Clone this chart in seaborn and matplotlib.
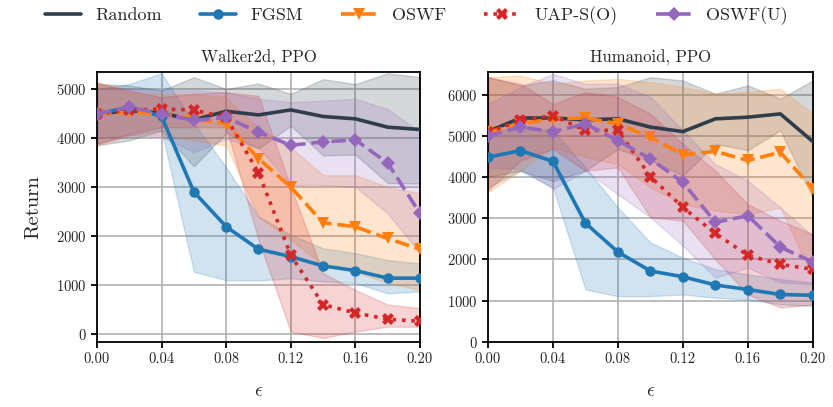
import numpy as np
import pandas as pd
import seaborn as sns
import matplotlib.pyplot as plt

# epsilon values shared by both panels
eps = [0.00, 0.02, 0.04, 0.06, 0.08, 0.10, 0.12, 0.14, 0.16, 0.18, 0.20]

methods = ["Random", "FGSM", "OSWF", "UAP-S(O)", "OSWF(U)"]

# Walker2d, PPO : mean, lower, upper
walker_random = [4490, 4560, 4505, 4370, 4545, 4470, 4573, 4438, 4390, 4220, 4173]
walker_random_lo = [3850, 3950, 4150, 3420, 4100, 3780, 4250, 3645, 3660, 3080, 3070]
walker_random_hi = [5100, 5070, 4970, 5240, 5000, 5110, 4900, 5200, 5100, 5320, 5240]

walker_fgsm = [4490, 4630, 4440, 2900, 2190, 1730, 1580, 1390, 1295, 1140, 1140]
walker_fgsm_lo = [4000, 4050, 4150, 1270, 1100, 1090, 1140, 1070, 1040, 830, 870]
walker_fgsm_hi = [5000, 5100, 5320, 4300, 3400, 2400, 2020, 1750, 1650, 1510, 1440]

walker_oswf = [4490, 4525, 4490, 4390, 4290, 3580, 3000, 2270, 2190, 1950, 1730]
walker_oswf_lo = [3850, 4050, 4050, 3950, 3850, 2390, 1920, 1410, 1270, 1040, 900]
walker_oswf_hi = [5135, 4930, 4900, 4900, 4830, 4190, 3810, 3240, 3240, 3000, 2870]

walker_uap = [4490, 4570, 4590, 4570, 4420, 3290, 1610, 600, 430, 305, 260]
walker_uap_lo = [3880, 4080, 4220, 4220, 4220, 1920, 50, -80, 50, 150, 150]
walker_uap_hi = [5135, 4970, 4830, 4900, 4930, 4860, 3000, 1240, 900, 600, 530]

walker_oswfu = [4490, 4630, 4490, 4360, 4420, 4120, 3850, 3920, 3960, 3490, 2460]
walker_oswfu_lo = [3880, 4050, 4020, 3710, 3980, 3810, 3040, 3040, 3000, 2460, 1650]
walker_oswfu_hi = [5070, 5000, 4970, 4970, 4930, 4800, 4730, 4760, 4800, 4590, 4120]

# Humanoid, PPO : mean, lower, upper
human_random = [5100, 5430, 5430, 5385, 5410, 5210, 5100, 5410, 5450, 5530, 4860]
human_random_lo = [4000, 4150, 3900, 4150, 4680, 4400, 4030, 4800, 4650, 5130, 3500]
human_random_hi = [6420, 6220, 6340, 6140, 6180, 6420, 6340, 6020, 6220, 5900, 6340]

human_fgsm = [4480, 4640, 4380, 2880, 2180, 1720, 1580, 1380, 1270, 1150, 1130]
human_fgsm_lo = [3750, 4150, 3750, 1270, 1110, 1110, 1150, 1070, 1030, 910, 870]
human_fgsm_hi = [5085, 5200, 5130, 4230, 3260, 2410, 2040, 1760, 1640, 1520, 1440]

human_oswf = [5085, 5290, 5410, 5430, 5290, 4960, 4540, 4620, 4400, 4600, 3710]
human_oswf_lo = [3630, 4150, 4720, 4480, 4310, 3750, 3340, 3180, 3100, 3260, 1560]
human_oswf_hi = [6420, 6460, 6260, 6340, 6380, 6300, 6180, 6020, 6060, 6140, 5530]

human_uap = [5085, 5370, 5490, 5130, 5130, 4010, 3260, 2630, 2100, 1880, 1760]
human_uap_lo = [3670, 4400, 4680, 4150, 4230, 3020, 2940, 2000, 1150, 830, 910]
human_uap_hi = [6420, 6260, 5770, 6060, 5940, 5530, 4800, 4150, 3340, 2940, 2610]

human_oswfu = [5000, 5210, 5100, 5290, 4880, 4440, 3870, 2900, 3060, 2300, 1940]
human_oswfu_lo = [4230, 4190, 3710, 4150, 3580, 3020, 2330, 1560, 1800, 1440, 1400]
human_oswfu_hi = [5770, 6180, 6500, 6260, 6260, 5940, 5130, 4310, 3910, 3260, 2570]

walker = {
    "Random": (walker_random, walker_random_lo, walker_random_hi),
    "FGSM": (walker_fgsm, walker_fgsm_lo, walker_fgsm_hi),
    "OSWF": (walker_oswf, walker_oswf_lo, walker_oswf_hi),
    "UAP-S(O)": (walker_uap, walker_uap_lo, walker_uap_hi),
    "OSWF(U)": (walker_oswfu, walker_oswfu_lo, walker_oswfu_hi),
}
human = {
    "Random": (human_random, human_random_lo, human_random_hi),
    "FGSM": (human_fgsm, human_fgsm_lo, human_fgsm_hi),
    "OSWF": (human_oswf, human_oswf_lo, human_oswf_hi),
    "UAP-S(O)": (human_uap, human_uap_lo, human_uap_hi),
    "OSWF(U)": (human_oswfu, human_oswfu_lo, human_oswfu_hi),
}

colors = {"Random": "#2f3d4a", "FGSM": "#1f77b4", "OSWF": "#ff7f0e",
          "UAP-S(O)": "#d62728", "OSWF(U)": "#9467bd"}
markers = {"Random": None, "FGSM": "o", "OSWF": "v", "UAP-S(O)": "X", "OSWF(U)": "D"}
styles = {"Random": "-", "FGSM": "-", "OSWF": (0, (4, 1.6)), "UAP-S(O)": (0, (1, 1.6)),
          "OSWF(U)": (0, (4, 1.6))}
msizes = {"Random": 0, "FGSM": 7.5, "OSWF": 8, "UAP-S(O)": 8.5, "OSWF(U)": 7.5}

sns.set_theme(style="ticks")
plt.rcParams['font.family'] = ['cmr10', 'DejaVu Serif']
plt.rcParams['mathtext.fontset'] = 'cm'
plt.rcParams['axes.formatter.use_mathtext'] = True

fig = plt.figure(figsize=(8.33, 4.07), dpi=100)
ax1 = fig.add_axes([0.1164, 0.160, 0.3878, 0.663])
ax2 = fig.add_axes([0.5858, 0.160, 0.3900, 0.663])

for ax, data, title in [(ax1, walker, "Walker2d, PPO"), (ax2, human, "Humanoid, PPO")]:
    for m in methods:
        mean, lo, hi = data[m]
        df = pd.DataFrame({"eps": eps, "ret": mean})
        ax.fill_between(eps, lo, hi, color=colors[m], alpha=0.2, lw=1, zorder=1)
        sns.lineplot(data=df, x="eps", y="ret", ax=ax, color=colors[m], lw=2.6,
                     linestyle=styles[m], marker=markers[m], markersize=msizes[m],
                     markeredgewidth=0, label=m, legend=False, zorder=3)
    ax.set_title(title, fontsize=12, pad=7)
    ax.set_xlim(0, 0.2)
    ax.set_xticks([0.00, 0.04, 0.08, 0.12, 0.16, 0.20])
    ax.set_xticklabels(["0.00", "0.04", "0.08", "0.12", "0.16", "0.20"])
    ax.grid(True, color="#b0b0b0", lw=1.2)
    ax.set_axisbelow(True)
    for s in ax.spines.values():
        s.set_color("black")
        s.set_linewidth(1.3)
    ax.tick_params(labelsize=10.5, width=1.3, length=4, color="black")
    ax.set_xlabel(r"$\epsilon$", fontsize=14, labelpad=12)
    ax.set_ylabel("")

ax1.set_ylim(-160, 5345)
ax1.set_yticks([0, 1000, 2000, 3000, 4000, 5000])
ax2.set_ylim(0, 6545)
ax2.set_yticks([0, 1000, 2000, 3000, 4000, 5000, 6000])
ax1.set_ylabel("Return", fontsize=15, labelpad=10)

handles, labels = ax1.get_legend_handles_labels()
fig.legend(handles, labels, loc="upper center", ncol=5, frameon=False,
           fontsize=13, bbox_to_anchor=(0.5, 1.025), handlelength=2.0,
           columnspacing=2.1)

fig.savefig("out.png", dpi=100)
